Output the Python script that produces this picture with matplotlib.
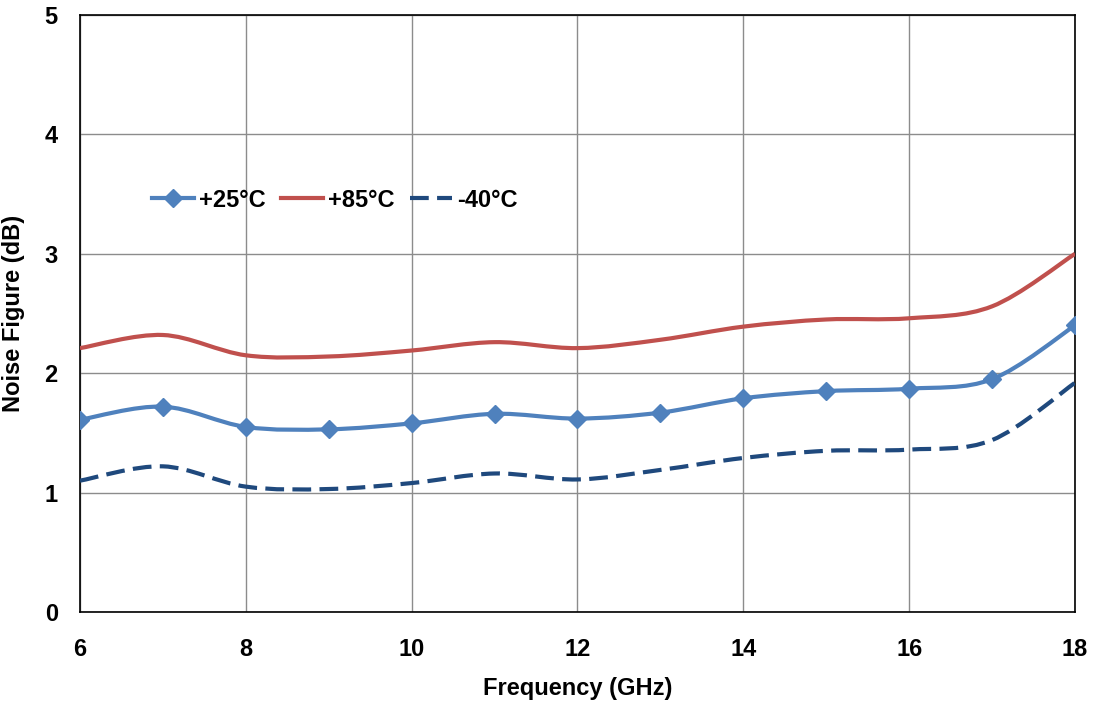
import matplotlib
matplotlib.use("Agg")
import matplotlib.pyplot as plt
from matplotlib.path import Path
from matplotlib.patches import PathPatch
from matplotlib.lines import Line2D
import numpy as np

plt.rcParams['font.family'] = ['Liberation Sans', 'DejaVu Sans']
plt.rcParams['font.weight'] = 'bold'

freq = [6, 7, 8, 9, 10, 11, 12, 13, 14, 15, 16, 17, 18]
nf_25 = [1.61, 1.72, 1.55, 1.53, 1.58, 1.66, 1.62, 1.67, 1.79, 1.85, 1.87, 1.95, 2.40]
nf_85 = [2.21, 2.32, 2.15, 2.14, 2.19, 2.26, 2.21, 2.28, 2.39, 2.45, 2.46, 2.56, 3.00]
nf_m40 = [1.10, 1.22, 1.05, 1.03, 1.08, 1.16, 1.11, 1.19, 1.29, 1.35, 1.36, 1.44, 1.92]
labels = ['+25°C', '+85°C', '-40°C']
xticks = [6, 8, 10, 12, 14, 16, 18]
yticks = [0, 1, 2, 3, 4, 5]

c25, c85, cm40 = '#4F81BD', '#C0504D', '#1F497D'


def smooth_path(x, y):
    """Excel-style smoothed line as cubic Bezier path (Catmull-Rom control points)."""
    p = np.column_stack([x, y]).astype(float)
    n = len(p)
    verts = [p[0]]
    codes = [Path.MOVETO]
    for i in range(n - 1):
        p0 = p[i - 1] if i > 0 else p[i]
        p1 = p[i]
        p2 = p[i + 1]
        p3 = p[i + 2] if i + 2 < n else p[i + 1]
        c1 = p1 + (p2 - p0) / 6.0
        c2 = p2 - (p3 - p1) / 6.0
        verts += [c1, c2, p2]
        codes += [Path.CURVE4] * 3
    return Path(verts, codes)


fig = plt.figure(figsize=(10.98, 7.04), dpi=100)
ax = fig.add_axes([80 / 1098, 1 - 612 / 704, 995 / 1098, 597 / 704])

lw = 3.0
dash = (0, (4.5, 2))
ax.add_patch(PathPatch(smooth_path(freq, nf_85), fill=False, edgecolor=c85, lw=lw, zorder=3))
ax.add_patch(PathPatch(smooth_path(freq, nf_m40), fill=False, edgecolor=cm40, lw=lw,
                       linestyle=dash, zorder=3))
ax.add_patch(PathPatch(smooth_path(freq, nf_25), fill=False, edgecolor=c25, lw=lw, zorder=4))
ax.plot(freq, nf_25, linestyle='none', marker='D', markersize=9.5, color=c25, zorder=5)

ax.set_xlim(6, 18)
ax.set_ylim(0, 5)
ax.set_xticks(xticks)
ax.set_yticks(yticks)
ax.set_xticklabels([str(v) for v in xticks])
ax.set_yticklabels([str(v) for v in yticks])
ax.tick_params(axis='both', length=0, labelsize=17)
ax.tick_params(axis='x', pad=19)
ax.tick_params(axis='y', pad=16)
ax.grid(True, color='#8C8C8C', linewidth=1.0)
ax.set_axisbelow(True)
for s in ax.spines.values():
    s.set_color('black')
    s.set_linewidth(1.2)

ax.set_xlabel('Frequency (GHz)', fontsize=17, fontweight='bold', labelpad=11)
ax.set_ylabel('Noise Figure (dB)', fontsize=17, fontweight='bold', labelpad=14)

handles = [
    Line2D([], [], color=c25, lw=lw, marker='D', markersize=9.5),
    Line2D([], [], color=c85, lw=lw),
    Line2D([], [], color=cm40, lw=lw, linestyle=dash),
]
leg = ax.legend(handles, labels, loc='center left', bbox_to_anchor=(0.072, 0.69),
                ncol=3, frameon=False, fontsize=17, numpoints=1, handlelength=1.8,
                handletextpad=0.2, columnspacing=0.65, borderpad=0, borderaxespad=0)
for t in leg.get_texts():
    t.set_fontweight('bold')

fig.savefig('out.png', dpi=100)
